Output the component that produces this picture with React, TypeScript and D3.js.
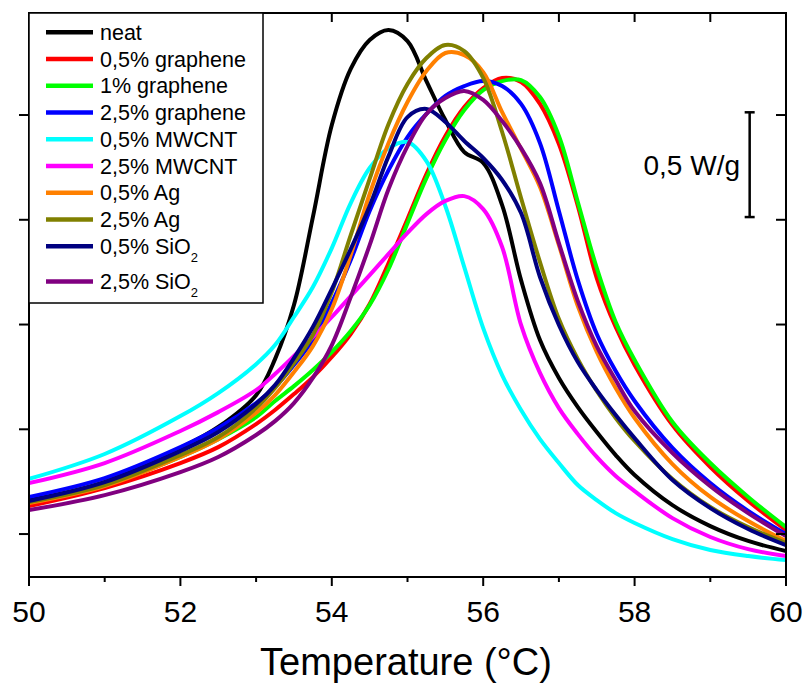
import React from 'react';
import * as d3 from 'd3';

const temps = [50, 51, 52, 52.5, 53, 53.25, 53.5, 53.75, 54, 54.25, 54.5, 54.75, 55, 55.25, 55.5, 55.75, 56, 56.25, 56.5, 56.75, 57, 57.25, 57.5, 57.75, 58, 58.5, 59, 59.5, 60];

const neat = [0.162, 0.248, 0.411, 0.511, 0.663, 0.835, 1.093, 1.513, 1.952, 2.22, 2.358, 2.406, 2.353, 2.162, 1.976, 1.823, 1.771, 1.57, 1.212, 0.926, 0.745, 0.606, 0.487, 0.377, 0.282, 0.138, 0.038, -0.033, -0.081];
const graphene05 = [0.134, 0.22, 0.339, 0.415, 0.525, 0.592, 0.668, 0.749, 0.845, 0.955, 1.098, 1.294, 1.504, 1.718, 1.9, 2.038, 2.129, 2.177, 2.158, 2.053, 1.862, 1.566, 1.222, 0.988, 0.807, 0.52, 0.32, 0.158, 0.019];
const graphene1 = [0.153, 0.234, 0.368, 0.453, 0.558, 0.635, 0.706, 0.783, 0.869, 0.969, 1.093, 1.265, 1.484, 1.699, 1.881, 2.024, 2.119, 2.162, 2.167, 2.086, 1.9, 1.585, 1.27, 1.012, 0.831, 0.535, 0.339, 0.177, 0.033];
const graphene25 = [0.177, 0.267, 0.415, 0.506, 0.625, 0.702, 0.807, 0.926, 1.103, 1.308, 1.542, 1.737, 1.895, 2.005, 2.091, 2.138, 2.162, 2.138, 2.053, 1.866, 1.542, 1.212, 0.955, 0.778, 0.635, 0.411, 0.243, 0.11, 0.0];
const mwcnt05 = [0.263, 0.382, 0.563, 0.673, 0.811, 0.902, 1.036, 1.179, 1.365, 1.58, 1.747, 1.842, 1.871, 1.78, 1.566, 1.274, 0.983, 0.759, 0.592, 0.453, 0.339, 0.234, 0.162, 0.1, 0.053, -0.024, -0.076, -0.105, -0.124];
const mwcnt25 = [0.243, 0.339, 0.492, 0.582, 0.687, 0.764, 0.85, 0.94, 1.036, 1.136, 1.236, 1.337, 1.437, 1.527, 1.59, 1.613, 1.551, 1.37, 0.998, 0.769, 0.601, 0.477, 0.368, 0.277, 0.205, 0.076, -0.014, -0.072, -0.105];
const ag05 = [0.148, 0.229, 0.368, 0.453, 0.578, 0.663, 0.773, 0.897, 1.074, 1.332, 1.623, 1.866, 2.062, 2.21, 2.296, 2.286, 2.205, 2.014, 1.838, 1.656, 1.379, 1.088, 0.869, 0.697, 0.554, 0.334, 0.177, 0.062, -0.033];
const ag25 = [0.153, 0.234, 0.377, 0.463, 0.601, 0.697, 0.816, 0.95, 1.155, 1.427, 1.695, 1.957, 2.148, 2.272, 2.334, 2.305, 2.177, 1.919, 1.604, 1.298, 1.026, 0.835, 0.683, 0.554, 0.444, 0.263, 0.129, 0.033, -0.043];
const sio05 = [0.158, 0.248, 0.396, 0.487, 0.621, 0.711, 0.84, 0.988, 1.169, 1.36, 1.566, 1.804, 1.99, 2.029, 1.967, 1.876, 1.795, 1.69, 1.532, 1.227, 0.998, 0.821, 0.687, 0.568, 0.458, 0.258, 0.124, 0.024, -0.053];
const sio25 = [0.115, 0.186, 0.296, 0.368, 0.473, 0.539, 0.625, 0.745, 0.902, 1.131, 1.379, 1.647, 1.852, 2.005, 2.081, 2.115, 2.072, 1.971, 1.842, 1.675, 1.389, 1.112, 0.897, 0.735, 0.587, 0.387, 0.229, 0.1, -0.01];

const seriesLabels = ['neat', '0,5% graphene', '1% graphene', '2,5% graphene', '0,5% MWCNT', '2,5% MWCNT', '0,5% Ag', '2,5% Ag', '0,5% SiO', '2,5% SiO'];
const seriesSub = ['', '', '', '', '', '', '', '', '2', '2'];
const seriesColors = ['#000000', '#FF0000', '#00FF00', '#0000FF', '#00FFFF', '#FF00FF', '#FF8000', '#808000', '#000080', '#800080'];
const seriesValues = [neat, graphene05, graphene1, graphene25, mwcnt05, mwcnt25, ag05, ag25, sio05, sio25];

const xMajorTicks = [50, 52, 54, 56, 58, 60];
const xMinorTicks = [51, 53, 55, 57, 59];
const yTicks = [0, 0.5, 1.0, 1.5, 2.0];
const scaleBar = { t: 59.52, from: 1.513, to: 2.013, label: '0,5 W/g' };

const FONT = 'Liberation Sans, Arial, Helvetica, sans-serif';

export default function App() {
  const L = 29, R = 786, T = 13, B = 577;
  const x = d3.scaleLinear().domain([50, 60]).range([L, R]);
  const y = d3.scaleLinear().domain([-0.205, 2.487]).range([B, T]);
  const lineGen = d3.line<number>()
    .x((_, i) => x(temps[i]))
    .y((d) => y(d))
    .curve(d3.curveCatmullRom.alpha(0.5));

  const legendRowY = (i: number) => 32.3 + i * 26.75 + (i === 9 ? 8.5 : 0);

  return (
    <svg width={807} height={686} style={{ position: 'absolute', left: 0, top: 0, background: '#fff' }} fontFamily={FONT}>
      <rect x={0} y={0} width={807} height={686} fill="#fff" />
      <defs>
        <clipPath id="plotclip">
          <rect x={L} y={T} width={R - L} height={B - T} />
        </clipPath>
      </defs>
      <g clipPath="url(#plotclip)">
        {seriesValues.map((vals, i) => (
          <path key={i} d={lineGen(vals) || ''} fill="none" stroke={seriesColors[i]} strokeWidth={4} strokeLinejoin="round" />
        ))}
      </g>
      <rect x={L} y={T} width={R - L} height={B - T} fill="none" stroke="#000" strokeWidth={2} />
      {xMajorTicks.map((t) => (
        <g key={'bx' + t}>
          <line x1={x(t)} x2={x(t)} y1={B} y2={B + 9} stroke="#000" strokeWidth={2} />
          <text x={x(t)} y={622} fontSize={30} textAnchor="middle" fill="#000">{t}</text>
        </g>
      ))}
      {xMinorTicks.map((t) => (
        <line key={'bm' + t} x1={x(t)} x2={x(t)} y1={B} y2={B + 5} stroke="#000" strokeWidth={2} />
      ))}
      {[...xMajorTicks, ...xMinorTicks].map((t) => (
        <line key={'tx' + t} x1={x(t)} x2={x(t)} y1={T} y2={T + 9} stroke="#000" strokeWidth={2} />
      ))}
      {yTicks.map((v) => (
        <g key={'y' + v}>
          <line x1={L - 10} x2={L} y1={y(v)} y2={y(v)} stroke="#000" strokeWidth={2} />
          <line x1={R - 10} x2={R} y1={y(v)} y2={y(v)} stroke="#000" strokeWidth={2} />
        </g>
      ))}
      <text x={406} y={675} fontSize={38} textAnchor="middle" fill="#000">Temperature (°C)</text>
      <g stroke="#000" strokeWidth={2.5}>
        <line x1={x(scaleBar.t)} x2={x(scaleBar.t)} y1={y(scaleBar.from)} y2={y(scaleBar.to)} />
        <line x1={x(scaleBar.t) - 5} x2={x(scaleBar.t) + 5} y1={y(scaleBar.from)} y2={y(scaleBar.from)} />
        <line x1={x(scaleBar.t) - 5} x2={x(scaleBar.t) + 5} y1={y(scaleBar.to)} y2={y(scaleBar.to)} />
      </g>
      <text x={740} y={175} fontSize={28} textAnchor="end" fill="#000">{scaleBar.label}</text>
      <rect x={L} y={T} width={263 - L} height={303 - T} fill="#fff" stroke="#000" strokeWidth={1.5} />
      {seriesLabels.map((lab, i) => (
        <g key={'lg' + i}>
          <line x1={46} x2={93} y1={legendRowY(i)} y2={legendRowY(i)} stroke={seriesColors[i]} strokeWidth={4.5} />
          <text x={100} y={legendRowY(i) + 7.5} fontSize={21.5} fill="#000">
            {lab}
            {seriesSub[i] ? <tspan fontSize={13} dy={8}>{seriesSub[i]}</tspan> : null}
          </text>
        </g>
      ))}
    </svg>
  );
}
